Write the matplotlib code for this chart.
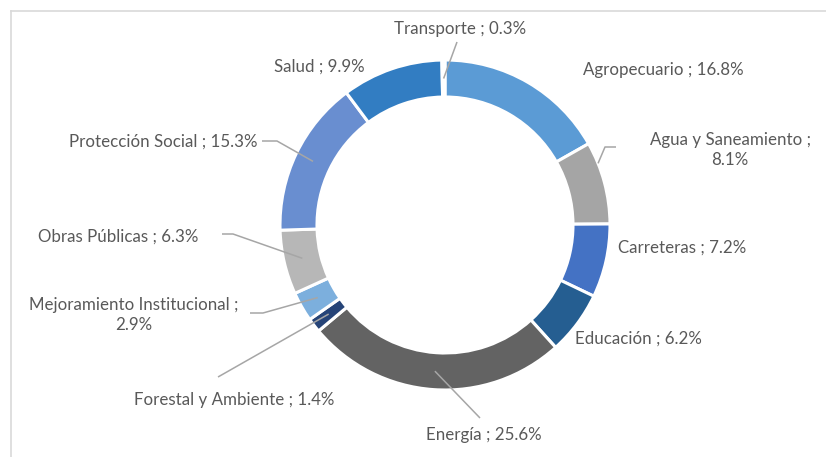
import numpy as np
import matplotlib.pyplot as plt
from matplotlib.lines import Line2D

# sectores y porcentajes, en el orden del anillo (horario desde arriba)
sectors = ["Agropecuario", "Agua y Saneamiento", "Carreteras", "Educación",
           "Energía", "Forestal y Ambiente", "Mejoramiento Institucional",
           "Obras Públicas", "Protección Social", "Salud", "Transporte"]
shares = [16.8, 8.1, 7.2, 6.2, 25.6, 1.4, 2.9, 6.3, 15.3, 9.9, 0.3]
label_text = ["Agropecuario ; 16.8%", "Agua y Saneamiento ;\n8.1%", "Carreteras ; 7.2%",
              "Educación ; 6.2%", "Energía ; 25.6%", "Forestal y Ambiente ; 1.4%",
              "Mejoramiento Institucional ;\n2.9%", "Obras Públicas ; 6.3%",
              "Protección Social ; 15.3%", "Salud ; 9.9%", "Transporte ; 0.3%"]

colors = ["#5B9BD5", "#A5A5A5", "#4472C4", "#255E91", "#636363", "#264478",
          "#7CAFDD", "#B7B7B7", "#698ED0", "#327DC2", "#8FAADC"]

W, H = 826, 457
cx, cy, R, ring = 445, H - 225, 165, 37

# label centres (pixels from top-left) and leader elbows
label_pos = [(663, 70), (730, 150), (682, 248), (638, 339), (484, 435),
             (234, 400), (134, 315), (118, 237), (163, 142), (319, 67), (460, 29)]
leaders = {1: [(605, 147), (616, 147)], 4: [(480, 418)], 5: [(218, 377)],
           6: [(263, 313), (250, 313)], 7: [(233, 234), (222, 234)],
           8: [(277, 141), (262, 141)], 10: [(457, 42)]}
leader_r = {1: R}
leader_shift = {1: 7}   # degrees, Excel anchors this one off-centre

fig = plt.figure(figsize=(W / 100, H / 100), dpi=100)
ax = fig.add_axes([0, 0, 1, 1])

wedges, _ = ax.pie(shares, colors=colors, startangle=90, counterclock=False,
                   center=(cx, cy), radius=R, frame=True,
                   wedgeprops=dict(width=ring, edgecolor="white", linewidth=2.2))
ax.set_xlim(0, W)
ax.set_ylim(0, H)
ax.set_aspect("equal")
ax.axis("off")

fcol = "#595959"
for i, w in enumerate(wedges):
    lx, ly = label_pos[i]
    ax.text(lx, H - ly, label_text[i], ha="center", va="center", fontsize=12.2,
            color=fcol, family=["Lato", "DejaVu Sans"], linespacing=1.35)
    if i in leaders:
        ang = np.deg2rad((w.theta1 + w.theta2) / 2 + leader_shift.get(i, 0))
        r = leader_r.get(i, R - ring / 2)
        pts = [(cx + r * np.cos(ang), cy + r * np.sin(ang))]
        pts += [(x, H - y) for x, y in leaders[i]]
        xs, ys = zip(*pts)
        ax.plot(xs, ys, color="#A6A6A6", lw=1.1, solid_capstyle="butt")

# chart area border (top and left visible)
fig.add_artist(Line2D([10.5 / W, 1], [1 - 10.5 / H, 1 - 10.5 / H],
                      color="#D9D9D9", lw=1.2, transform=fig.transFigure))
fig.add_artist(Line2D([10.5 / W, 10.5 / W], [0, 1 - 10.5 / H],
                      color="#D9D9D9", lw=1.2, transform=fig.transFigure))

fig.savefig("out.png", dpi=100, facecolor="white")
